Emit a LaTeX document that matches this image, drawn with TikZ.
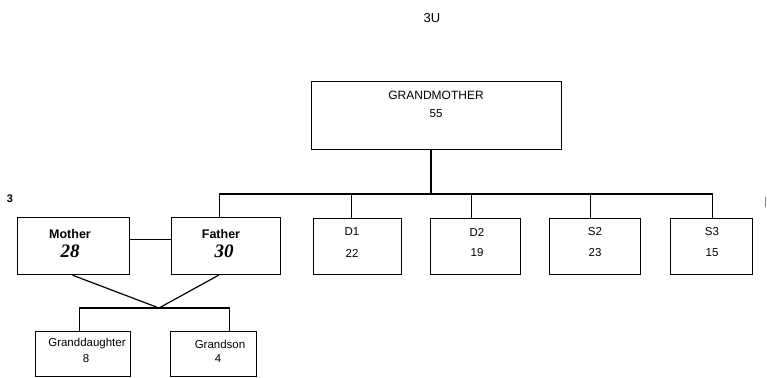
\documentclass[tikz,border=0pt]{standalone}
\usepackage{fontspec}
\setmainfont{Liberation Sans}
\newfontfamily\numserif{Liberation Serif}
\begin{document}
\begin{tikzpicture}[x=1pt,y=-1pt,
  box/.style={draw,line width=1.2pt,inner sep=0pt,anchor=north west},
  txt/.style={inner sep=0pt,font=\fontsize{11.5}{12}\selectfont},
  ptxt/.style={inner sep=0pt,font=\fontsize{12.5}{14}\selectfont\bfseries},
  big/.style={inner sep=0pt,font=\fontsize{19}{20}\numserif\bfseries\itshape},
  conn/.style={line width=1.2pt}]
\useasboundingbox (0,0) rectangle (767,377);
% stray scan marks
\node[inner sep=0pt,font=\fontsize{13}{14}\selectfont] (top) at (432,18) {3U};
\node[inner sep=0pt,font=\fontsize{11}{12}\selectfont\bfseries] (mk) at (10,199) {3};
\coordinate (rmA) at (765,197);
\coordinate (rmB) at (765,207);
\draw[line width=0.8pt,gray] (rmA) -- (rmB);
% boxes
\node[box,minimum width=250pt,minimum height=68pt] (gm) at (311,81) {};
\node[box,minimum width=88pt,minimum height=56pt] (d1) at (313,218) {};
\node[box,minimum width=90pt,minimum height=56pt] (d2) at (430,218) {};
\node[box,minimum width=91pt,minimum height=56pt] (s2) at (549,218) {};
\node[box,minimum width=82pt,minimum height=56pt] (s3) at (670,218) {};
\node[box,minimum width=112pt,minimum height=57pt] (mother) at (17,217) {};
\node[box,minimum width=109pt,minimum height=57pt] (father) at (171,217) {};
\node[box,minimum width=95pt,minimum height=45pt] (gd) at (35,331) {};
\node[box,minimum width=86pt,minimum height=45pt] (gs) at (170,331) {};
% texts
\node[txt,font=\fontsize{12}{13}\selectfont] (gmA) at (436,95) {GRANDMOTHER};
\node[txt] (gmB) at (436,114) {55};
\node[txt] (d1A) at (352,232) {D1};
\node[txt] (d1B) at (352,253) {22};
\node[txt] (d2A) at (477,232) {D2};
\node[txt] (d2B) at (477,253) {19};
\node[txt] (s2A) at (595,232) {S2};
\node[txt] (s2B) at (595,253) {23};
\node[txt] (s3A) at (712,232) {S3};
\node[txt] (s3B) at (712,253) {15};
\node[ptxt] (mA) at (70,234) {Mother};
\node[big] (mB) at (70,251) {28};
\node[ptxt] (fA) at (221,234) {Father};
\node[big] (fB) at (224,251) {30};
\node[txt] (gdA) at (87,344) {Granddaughter};
\node[txt] (gdB) at (86,359) {8};
\node[txt] (gsA) at (220,344) {Grandson};
\node[txt] (gsB) at (218,359) {4};
% connectors
\coordinate (bus) at (431,194);
\coordinate (meet) at (159,308);
\draw[conn] (gm.south -| bus) -- (bus);
\draw[conn] ([xshift=-6.5pt]father.north) |- (bus) -| ([xshift=1pt]s3.north);
\draw[conn] ([xshift=-6pt]d1.north) -- ([xshift=-6pt]d1.north |- bus);
\draw[conn] ([xshift=-4pt]d2.north) -- ([xshift=-4pt]d2.north |- bus);
\draw[conn] ([xshift=-4.5pt]s2.north) -- ([xshift=-4.5pt]s2.north |- bus);
\draw[conn] ([yshift=6.5pt]mother.east) -- ([yshift=6.5pt]father.west);
\draw[conn] ([xshift=-1pt]mother.south) -- (meet) -- ([xshift=-7.5pt]father.south);
\draw[conn] ([xshift=-3.5pt]gd.north) |- (meet) -| ([xshift=16pt]gs.north);
\end{tikzpicture}
\end{document}
